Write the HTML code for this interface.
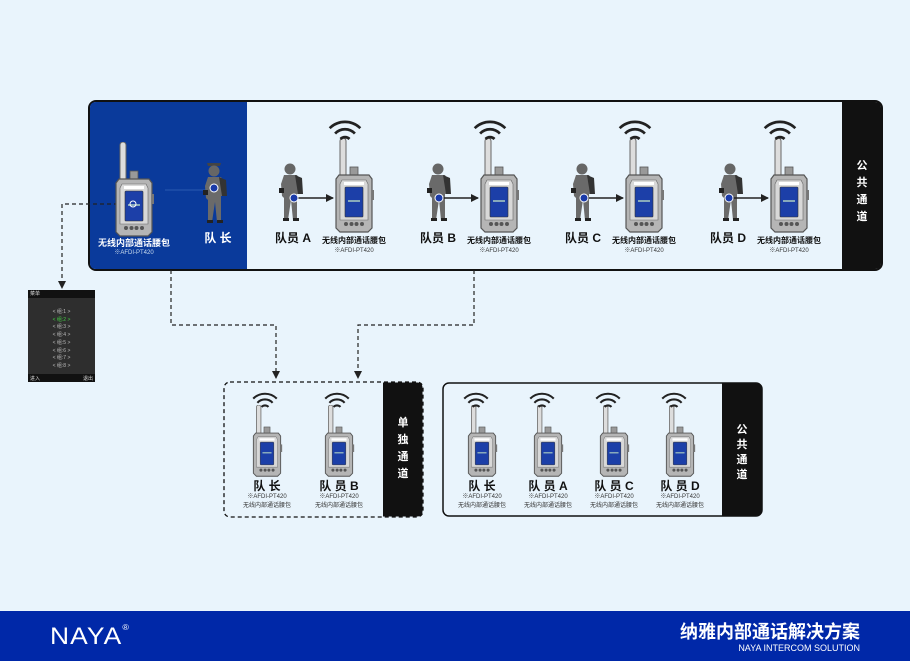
<!DOCTYPE html>
<html><head><meta charset="utf-8"><style>
*{margin:0;padding:0;box-sizing:border-box}
body{width:910px;height:661px;background:#e9f4fc;position:relative;overflow:hidden;font-family:"Liberation Sans","Noto Sans CJK SC",sans-serif}
.abs{position:absolute}
.t{position:absolute;font-weight:bold;color:#111;text-align:center;white-space:nowrap}
.s{font-size:6px;color:#333;font-weight:normal}
</style></head><body>
<svg class="abs" style="left:0;top:0" width="910" height="661" viewBox="0 0 910 661">
<defs>
<symbol id="dev" viewBox="0 0 40 95">
 <rect x="6" y="0" width="6" height="44" rx="3" fill="#ddd" stroke="#666" stroke-width="1"/>
 <rect x="16" y="29" width="8" height="10" fill="#999" stroke="#555" stroke-width="0.8"/>
 <path d="M5 37 H35 L38 41 V90 L34 94 H6 L2 90 V41 Z" fill="#b5b5b5" stroke="#555" stroke-width="1.2"/>
 <path d="M8 42 H32 L34 46 V82 H6 V46 Z" fill="#d8d8d8" stroke="#666" stroke-width="0.6"/>
 <rect x="10" y="44" width="20" height="3" fill="#fff"/>
 <rect x="11" y="49" width="18" height="30" rx="1" fill="#1c3fa8" stroke="#333" stroke-width="0.6"/>
 <rect x="14" y="62" width="12" height="2" fill="#8ab"/>
 <circle cx="12" cy="86" r="2" fill="#555"/><circle cx="17.5" cy="86" r="2" fill="#555"/><circle cx="22.5" cy="86" r="2" fill="#555"/><circle cx="28" cy="86" r="2" fill="#555"/>
 <rect x="38" y="52" width="2" height="10" fill="#777"/>
</symbol>
<symbol id="wifi" viewBox="0 0 40 26">
 <path d="M3 11 A24 24 0 0 1 37 11" fill="none" stroke="#222" stroke-width="3"/>
 <path d="M9 17 A15 15 0 0 1 31 17" fill="none" stroke="#222" stroke-width="3"/>
 <path d="M15 23 A7 7 0 0 1 25 23" fill="none" stroke="#222" stroke-width="3"/>
</symbol>
<symbol id="man" viewBox="0 0 30 60">
 <circle cx="14" cy="7" r="5.5" fill="#666"/>
 <path d="M8 13 H21 L25 20 L25 32 H21 V58 H17 L15 38 L12 58 H8 V36 L6 34 L5 22 Z" fill="#6a6a6a"/>
 <path d="M19 13 L26 16 L27 32 L22 32 Z" fill="#333"/>
 <rect x="3" y="26" width="5" height="5" fill="#222"/>
 <rect x="7" y="56" width="6" height="3" fill="#222"/><rect x="17" y="56" width="6" height="3" fill="#222"/>
</symbol>
<marker id="ah" markerWidth="8" markerHeight="8" refX="7" refY="4" orient="auto" markerUnits="userSpaceOnUse"><path d="M0 0 L8 4 L0 8 Z" fill="#222"/></marker>
</defs>
<!-- top panel -->
<rect x="89" y="101" width="793" height="169" rx="7" fill="#e9f4fc" stroke="#111" stroke-width="2"/>
<path d="M96 102 H247 V269 H96 Q90 269 90 263 V108 Q90 102 96 102Z" fill="#0a3a9b"/>
<path d="M842 102 H875 Q881 102 881 108 V263 Q881 269 875 269 H842 Z" fill="#111"/>
<!-- bottom boxes -->
<rect x="224" y="382" width="199" height="135" rx="6" fill="#e9f4fc" stroke="#111" stroke-width="1.3" stroke-dasharray="4 3"/>
<path d="M383 382.5 H417 Q422.5 382.5 422.5 388 V511 Q422.5 516.5 417 516.5 H383 Z" fill="#111"/>
<rect x="443" y="383" width="319" height="133" rx="6" fill="#e9f4fc" stroke="#111" stroke-width="1.5"/>
<path d="M722 383.5 H756 Q761.5 383.5 761.5 389 V510 Q761.5 515.5 756 515.5 H722 Z" fill="#111"/>
<!-- dashed connectors -->
<g fill="none" stroke="#222" stroke-width="1.2" stroke-dasharray="4 3">
<path d="M132 204 H62 V288" marker-end="url(#ah)"/>
<path d="M171 270 V325 H276 V378" marker-end="url(#ah)"/>
<path d="M474 270 V325 H358 V378" marker-end="url(#ah)"/>
</g>
<path d="M210 190 H165" stroke="#2a5ab0" stroke-width="1" fill="none"/>
<!-- top devices -->
<use href="#dev" x="114" y="142" width="40" height="95"/>
<use href="#dev" x="334" y="138" width="40" height="95"/>
<use href="#dev" x="479" y="138" width="40" height="95"/>
<use href="#dev" x="624" y="138" width="40" height="95"/>
<use href="#dev" x="769" y="138" width="40" height="95"/>
<use href="#wifi" x="327" y="118" width="36" height="24"/>
<use href="#wifi" x="472" y="118" width="36" height="24"/>
<use href="#wifi" x="617" y="118" width="36" height="24"/>
<use href="#wifi" x="762" y="118" width="36" height="24"/>
<!-- persons -->
<g>
<path d="M208 166 h12 l1 -3 h-14z" fill="#444"/>
<use href="#man" x="200" y="163" width="30" height="62"/>
<use href="#man" x="276" y="160" width="30" height="64"/>
<use href="#man" x="424" y="160" width="30" height="64"/>
<use href="#man" x="568" y="160" width="30" height="64"/>
<use href="#man" x="716" y="160" width="30" height="64"/>
</g>
<g stroke="#222" stroke-width="1.6" fill="none">
<path d="M296 198 H333" marker-end="url(#ah)"/>
<path d="M441 198 H478" marker-end="url(#ah)"/>
<path d="M586 198 H623" marker-end="url(#ah)"/>
<path d="M731 198 H768" marker-end="url(#ah)"/>
</g>
<g fill="#1a3aa8" stroke="#fff" stroke-width="1">
<circle cx="214" cy="188" r="4"/><circle cx="294" cy="198" r="4"/><circle cx="439" cy="198" r="4"/><circle cx="584" cy="198" r="4"/><circle cx="729" cy="198" r="4"/>
<circle cx="133" cy="204" r="3" fill="none"/>
</g>
<!-- bottom devices -->
<use href="#dev" x="251" y="405" width="32" height="72"/>
<use href="#dev" x="323" y="405" width="32" height="72"/>
<use href="#dev" x="466" y="405" width="32" height="72"/>
<use href="#dev" x="532" y="405" width="32" height="72"/>
<use href="#dev" x="598" y="405" width="32" height="72"/>
<use href="#dev" x="664" y="405" width="32" height="72"/>
<use href="#wifi" x="251" y="391" width="28" height="18"/>
<use href="#wifi" x="323" y="391" width="28" height="18"/>
<use href="#wifi" x="462" y="391" width="28" height="18"/>
<use href="#wifi" x="528" y="391" width="28" height="18"/>
<use href="#wifi" x="594" y="391" width="28" height="18"/>
<use href="#wifi" x="660" y="391" width="28" height="18"/>
<!-- menu screen -->
<rect x="28" y="290" width="67" height="92" fill="#2e2e2e"/>
<rect x="28" y="290" width="67" height="8" fill="#111"/>
<rect x="28" y="374" width="67" height="8" fill="#111"/>
<!-- footer -->
<rect x="0" y="611" width="910" height="50" fill="#0028a8"/>
</svg>

<!-- menu text -->
<div class="abs" style="left:30px;top:290px;font-size:5px;color:#ddd">菜单</div>
<div class="abs" style="left:28px;top:309px;width:67px;font-size:5px;line-height:7.7px;color:#bbb;text-align:center">&lt; 组:1 &gt;<br><span style="color:#4c4">&lt; 组:2 &gt;</span><br>&lt; 组:3 &gt;<br>&lt; 组:4 &gt;<br>&lt; 组:5 &gt;<br>&lt; 组:6 &gt;<br>&lt; 组:7 &gt;<br>&lt; 组:8 &gt;</div>
<div class="abs" style="left:30px;top:375px;font-size:5px;color:#ddd">进入</div>
<div class="abs" style="left:83px;top:375px;font-size:5px;color:#ddd">退出</div>

<!-- top labels -->
<div class="t" style="left:94px;top:236px;width:80px;font-size:9px;color:#fff">无线内部通话腰包</div>
<div class="t s" style="left:94px;top:247px;width:80px;color:#cde">※AFDI-PT420</div>
<div class="t" style="left:198px;top:229px;width:40px;font-size:12px;color:#fff">队 长</div>
<div class="t" style="left:268px;top:229px;width:50px;font-size:12px">队员 A</div>
<div class="t" style="left:413px;top:229px;width:50px;font-size:12px">队员 B</div>
<div class="t" style="left:558px;top:229px;width:50px;font-size:12px">队员 C</div>
<div class="t" style="left:703px;top:229px;width:50px;font-size:12px">队员 D</div>
<div class="t" style="left:314px;top:235px;width:80px;font-size:8px">无线内部通话腰包</div>
<div class="t s" style="left:314px;top:245px;width:80px">※AFDI-PT420</div>
<div class="t" style="left:459px;top:235px;width:80px;font-size:8px">无线内部通话腰包</div>
<div class="t s" style="left:459px;top:245px;width:80px">※AFDI-PT420</div>
<div class="t" style="left:604px;top:235px;width:80px;font-size:8px">无线内部通话腰包</div>
<div class="t s" style="left:604px;top:245px;width:80px">※AFDI-PT420</div>
<div class="t" style="left:749px;top:235px;width:80px;font-size:8px">无线内部通话腰包</div>
<div class="t s" style="left:749px;top:245px;width:80px">※AFDI-PT420</div>
<div class="t" style="left:842px;top:158px;width:40px;font-size:11px;line-height:17px;color:#fff">公<br>共<br>通<br>道</div>

<!-- bottom labels -->
<div class="t" style="left:242px;top:477px;width:50px;font-size:12px">队 长</div>
<div class="t" style="left:314px;top:477px;width:50px;font-size:12px">队 员 B</div>
<div class="t s" style="left:232px;top:491px;width:70px">※AFDI-PT420</div>
<div class="t s" style="left:304px;top:491px;width:70px">※AFDI-PT420</div>
<div class="t s" style="left:232px;top:500px;width:70px">无线内部通话腰包</div>
<div class="t s" style="left:304px;top:500px;width:70px">无线内部通话腰包</div>
<div class="t" style="left:383px;top:415px;width:40px;font-size:11px;line-height:17px;color:#fff">单<br>独<br>通<br>道</div>

<div class="t" style="left:452px;top:477px;width:60px;font-size:12px">队 长</div>
<div class="t" style="left:518px;top:477px;width:60px;font-size:12px">队 员 A</div>
<div class="t" style="left:584px;top:477px;width:60px;font-size:12px">队 员 C</div>
<div class="t" style="left:650px;top:477px;width:60px;font-size:12px">队 员 D</div>
<div class="t s" style="left:447px;top:491px;width:70px">※AFDI-PT420</div>
<div class="t s" style="left:513px;top:491px;width:70px">※AFDI-PT420</div>
<div class="t s" style="left:579px;top:491px;width:70px">※AFDI-PT420</div>
<div class="t s" style="left:645px;top:491px;width:70px">※AFDI-PT420</div>
<div class="t s" style="left:447px;top:500px;width:70px">无线内部通话腰包</div>
<div class="t s" style="left:513px;top:500px;width:70px">无线内部通话腰包</div>
<div class="t s" style="left:579px;top:500px;width:70px">无线内部通话腰包</div>
<div class="t s" style="left:645px;top:500px;width:70px">无线内部通话腰包</div>
<div class="t" style="left:722px;top:423px;width:40px;font-size:11px;line-height:15px;color:#fff">公<br>共<br>通<br>道</div>

<!-- footer text -->
<div class="abs" style="left:50px;top:623px;font-size:24px;color:#fff;letter-spacing:1px;font-family:'Liberation Sans',sans-serif;transform:scaleX(1.1);transform-origin:left">NAYA<span style="font-size:8px;vertical-align:top">®</span></div>
<div class="abs" style="left:650px;top:618px;width:210px;text-align:right;font-size:18px;font-weight:bold;color:#fff">纳雅内部通话解决方案</div>
<div class="abs" style="left:650px;top:643px;width:210px;text-align:right;font-size:9px;color:#fff">NAYA INTERCOM SOLUTION</div>
</body></html>
